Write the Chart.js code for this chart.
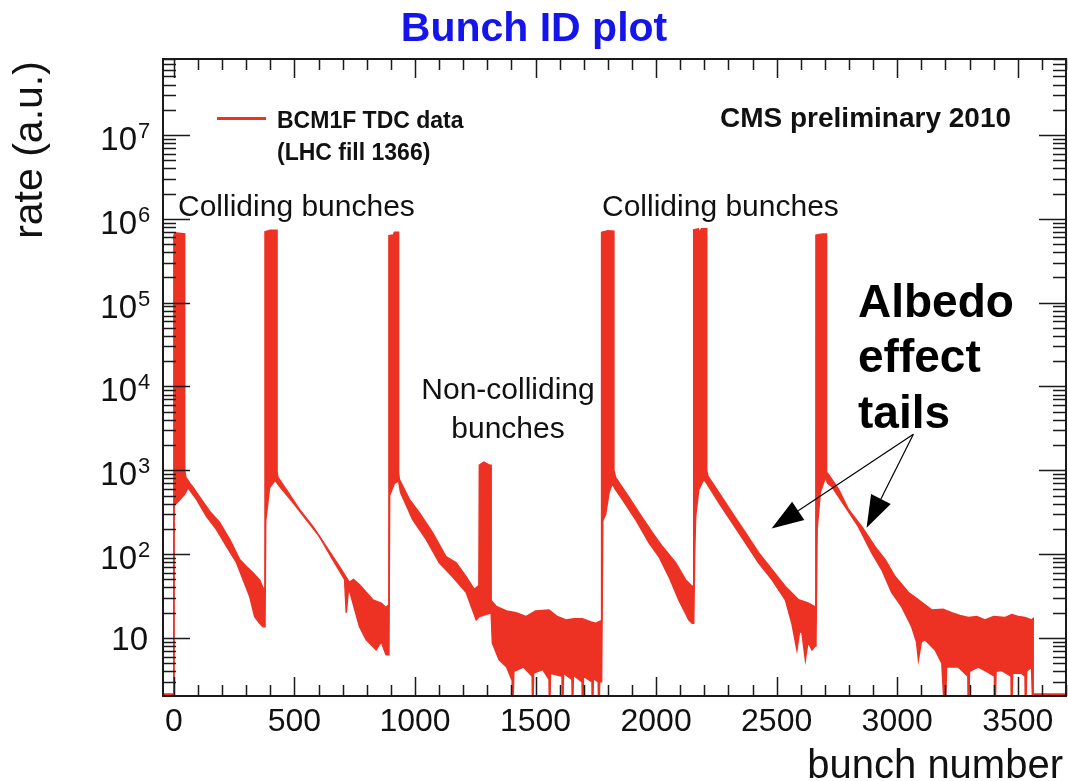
<!DOCTYPE html>
<html>
<head>
<meta charset="utf-8">
<title>Bunch ID plot</title>
<script src="https://cdn.jsdelivr.net/npm/chart.js@4.4.1/dist/chart.umd.min.js"></script>
<style>
  html, body { margin: 0; padding: 0; background: #fff; }
  #wrap { position: relative; width: 1068px; height: 781px; }
</style>
</head>
<body>
<div id="wrap"><canvas id="bunchChart"></canvas></div>
<script>
// upper edge of the BCM1F histogram band (bunch number, rate)
var upperBunch = [-45, 0, 0, 5, 45, 45, 50, 66, 80, 108, 149, 190, 232, 273, 301, 328, 356, 372, 378,
  378, 400, 428, 428, 432, 466, 521, 577, 632, 687, 728, 745, 770, 825, 860, 880, 892,
  892, 910, 915, 932, 932, 935, 977, 1018, 1073, 1129, 1171, 1212, 1246, 1265,
  1267, 1285, 1310, 1316, 1316, 1336, 1349, 1380, 1419, 1460, 1500, 1556, 1590, 1626, 1660, 1694, 1730, 1750, 1772,
  1774, 1800, 1825, 1825, 1832, 1874, 1929, 1984, 2026, 2081, 2122, 2150, 2156,
  2156, 2175, 2180, 2188, 2210, 2210, 2215, 2260, 2315, 2370, 2425, 2481, 2536, 2591, 2632, 2660,
  2663, 2690, 2707, 2707, 2715, 2757, 2798, 2853, 2908, 2950, 2991, 3046, 3088, 3143, 3190, 3226, 3260,
  3295, 3330, 3364, 3400, 3446, 3475, 3502, 3530, 3557, 3564, 3564, 3700];
var upperRate = [2.15, 2.15, 6.3e5, 6.8e5, 6.6e5, 1000, 820, 700, 625, 475, 323, 238, 149, 86, 71, 60, 49, 38, 40,
  7.0e5, 7.3e5, 7.3e5, 950, 820, 592, 341, 213, 123, 71, 46, 50, 43, 28.5, 26, 23, 25,
  6.3e5, 6.4e5, 6.9e5, 6.9e5, 950, 780, 450, 312, 181, 93, 79, 54, 38, 42,
  1150, 1250, 1150, 1150, 28, 24, 23, 21, 20, 18, 21, 21.6, 18, 16.4, 17, 17, 15.5, 15, 16,
  6.9e5, 7.2e5, 7.1e5, 1000, 820, 545, 312, 181, 123, 79, 49.5, 41, 42,
  7.4e5, 7.6e5, 6.9e5, 7.6e5, 7.6e5, 1000, 850, 545, 312, 181, 104, 65, 41, 28.5, 26, 23.5,
  6.4e5, 6.6e5, 6.6e5, 950, 890, 592, 341, 213, 123, 86, 54, 35, 28.5, 21.6, 22, 20, 18.5,
  17.5, 18, 16.4, 18, 17.5, 19, 18, 17.5, 16.4, 17, 2.15, 2.15];

// lower edge of the same band (bunch number, rate); 1 means an empty bin below the axis
var lowerBunch = [-45, 0, 1, 20, 45, 59, 94, 136, 177, 219, 260, 287, 315, 335, 356, 370, 378,
  381, 397, 420, 439, 494, 549, 604, 659, 708, 715, 725, 770, 798, 839, 860, 880, 892,
  895, 915, 932, 940, 990, 1047, 1101, 1155, 1212, 1254, 1267, 1316,
  1321, 1349, 1380, 1403, 1405, 1410, 1450, 1486, 1488, 1492, 1530, 1556, 1558, 1562, 1610, 1612, 1616,
  1651, 1653, 1657, 1693, 1695, 1699, 1734, 1736, 1740, 1760, 1762, 1766, 1774,
  1779, 1791, 1805, 1818, 1830, 1860, 1915, 1970, 2012, 2053, 2094, 2136, 2150, 2156,
  2160, 2164, 2177, 2198, 2210, 2260, 2315, 2370, 2425, 2481, 2536, 2563, 2584, 2595, 2605, 2619, 2630, 2646, 2660,
  2663, 2668, 2681, 2702, 2712, 2729, 2784, 2839, 2894, 2936, 2977, 3019, 3060, 3080, 3088, 3100, 3115, 3157, 3185,
  3198, 3205, 3253, 3293, 3295, 3300, 3336, 3370, 3403, 3405, 3410, 3432, 3472, 3474, 3479, 3515, 3530, 3532, 3537,
  3557, 3564, 3700];
var lowerRate = [1, 1, 380, 430, 520, 620, 450, 280, 196, 123, 79, 50, 31, 18, 15, 13.6, 13.6,
  250, 620, 760, 640, 413, 259, 162, 86, 50, 20, 40, 13.6, 9.5, 7.2, 9, 6.3, 6.3,
  500, 700, 750, 545, 259, 149, 79, 54, 35, 16.4, 18, 20,
  8.7, 5.5, 4.5, 3.1, 1, 4, 4.5, 3.5, 1, 3.8, 4.2, 3.2, 1, 3.8, 3.5, 1, 3.8,
  3.2, 1, 3.6, 3, 1, 3.5, 3, 1, 3.3, 3, 1, 3, 3,
  250, 300, 545, 700, 600, 450, 259, 137, 93, 54, 28.5, 16.4, 15, 15,
  100, 280, 592, 780, 700, 413, 238, 137, 79, 49.5, 28.5, 15, 7.2, 12, 11.5, 5.5, 9, 7.2, 8,
  9, 200, 545, 820, 700, 640, 370, 213, 104, 65, 35, 23.5, 13.6, 9, 5.5, 9, 9.5, 7.2, 5,
  1, 4.5, 4.5, 3.5, 1, 4, 4.5, 4, 3.5, 1, 4, 4.1, 3.5, 1, 3.8, 3.8, 3.5, 1, 4,
  4.5, 1, 1];

var xMajorTicks = [0, 500, 1000, 1500, 2000, 2500, 3000, 3500];
var xTickLabels = ['0', '500', '1000', '1500', '2000', '2500', '3000', '3500'];
var yDecades = [1, 2, 3, 4, 5, 6, 7];
var yTickLabels = ['10', '10', '10', '10', '10', '10', '10'];
var yTickExponents = ['', '2', '3', '4', '5', '6', '7'];

var RED = 'rgb(237, 50, 36)';
var FONT = '"Liberation Sans", Arial, Helvetica, sans-serif';

// arrows of the "Albedo effect tails" note, in (bunch, rate)
var arrowFrom = [3067, 2700];
var arrowTips = [[2479, 202], [2873, 207]];

function toPoints(xs, ys) {
	var pts = [];
	for (var i = 0; i < xs.length; i++) {
		pts.push({x: xs[i], y: ys[i]});
	}
	return pts;
}

function drawArrow(ctx, x0, y0, x1, y1) {
	var dx = x1 - x0, dy = y1 - y0;
	var len = Math.sqrt(dx * dx + dy * dy);
	var ux = dx / len, uy = dy / len;
	var headLen = 32, headHalf = 11;
	var bx = x1 - ux * headLen, by = y1 - uy * headLen;
	ctx.beginPath();
	ctx.moveTo(x0, y0);
	ctx.lineTo(bx, by);
	ctx.stroke();
	ctx.beginPath();
	ctx.moveTo(x1, y1);
	ctx.lineTo(bx - uy * headHalf, by + ux * headHalf);
	ctx.lineTo(bx + uy * headHalf, by - ux * headHalf);
	ctx.closePath();
	ctx.fill();
}

var rootStyle = {
	id: 'rootStyle',
	afterDatasetsDraw: function(chart) {
		var ctx = chart.ctx;
		var a = chart.chartArea;
		var xs = chart.scales.x, ys = chart.scales.y;
		ctx.save();
		ctx.strokeStyle = '#1a1a1a';
		ctx.lineWidth = 1.5;

		// x ticks, every 100 bunches, on bottom and top
		ctx.beginPath();
		for (var v = 0; v <= xs.max; v += 100) {
			var px = Math.round(xs.getPixelForValue(v)) + 0.5;
			var len = (v % 500 === 0) ? 19 : 11;
			ctx.moveTo(px, a.bottom); ctx.lineTo(px, a.bottom - len);
			ctx.moveTo(px, a.top); ctx.lineTo(px, a.top + len);
		}
		// y ticks, decades and 2..9 in between, on left and right
		for (var p = 0; p <= 7; p++) {
			for (var m = 1; m <= 9; m++) {
				var val = m * Math.pow(10, p);
				if (val < ys.min || val > ys.max) continue;
				var py = Math.round(ys.getPixelForValue(val)) + 0.5;
				var l2 = (m === 1) ? 27 : 13;
				ctx.moveTo(a.left, py); ctx.lineTo(a.left + l2, py);
				ctx.moveTo(a.right, py); ctx.lineTo(a.right - l2, py);
			}
		}
		ctx.stroke();

		ctx.lineWidth = 2;
		ctx.strokeRect(a.left, a.top, a.right - a.left, a.bottom - a.top);

		// tick labels
		ctx.fillStyle = '#111';
		ctx.font = '32px ' + FONT;
		ctx.textAlign = 'center';
		ctx.textBaseline = 'alphabetic';
		for (var i = 0; i < xMajorTicks.length; i++) {
			ctx.fillText(xTickLabels[i], xs.getPixelForValue(xMajorTicks[i]), 731);
		}
		for (var j = 0; j < yDecades.length; j++) {
			var ty = ys.getPixelForValue(Math.pow(10, yDecades[j]));
			ctx.textAlign = 'right';
			ctx.font = '33px ' + FONT;
			if (yTickExponents[j] === '') {
				ctx.fillText(yTickLabels[j], 148, ty + 12);
			} else {
				ctx.fillText(yTickLabels[j], 137, ty + 15);
				ctx.font = '22px ' + FONT;
				ctx.textAlign = 'left';
				ctx.fillText(yTickExponents[j], 138, ty + 3);
			}
		}

		// axis titles
		ctx.font = '40px ' + FONT;
		ctx.textAlign = 'right';
		ctx.fillText('bunch number', 1063, 778);
		ctx.save();
		ctx.translate(42, 150);
		ctx.rotate(-Math.PI / 2);
		ctx.font = '41px ' + FONT;
		ctx.textAlign = 'center';
		ctx.fillText('rate (a.u.)', 0, 0);
		ctx.restore();

		// legend
		ctx.strokeStyle = RED;
		ctx.lineWidth = 3;
		ctx.beginPath();
		ctx.moveTo(217, 118.5); ctx.lineTo(266, 118.5);
		ctx.stroke();
		ctx.fillStyle = '#111';
		ctx.textAlign = 'left';
		ctx.font = 'bold 23px ' + FONT;
		ctx.fillText('BCM1F TDC data', 277, 128);
		ctx.fillText('(LHC fill 1366)', 277, 160);
		ctx.font = 'bold 28px ' + FONT;
		ctx.fillText('CMS preliminary 2010', 720, 127);

		// notes
		ctx.font = '30px ' + FONT;
		ctx.fillText('Colliding bunches', 178, 216);
		ctx.fillText('Colliding bunches', 602, 216);
		ctx.textAlign = 'center';
		ctx.fillText('Non-colliding', 508, 399);
		ctx.fillText('bunches', 508, 438);
		ctx.textAlign = 'left';
		ctx.fillStyle = '#000';
		ctx.font = 'bold 46px ' + FONT;
		ctx.fillText('Albedo', 858, 317);
		ctx.fillText('effect', 858, 372);
		ctx.fillText('tails', 858, 428);

		ctx.strokeStyle = '#000';
		ctx.lineWidth = 1.2;
		var fx = xs.getPixelForValue(arrowFrom[0]), fy = ys.getPixelForValue(arrowFrom[1]);
		for (var k = 0; k < arrowTips.length; k++) {
			drawArrow(ctx, fx, fy, xs.getPixelForValue(arrowTips[k][0]), ys.getPixelForValue(arrowTips[k][1]));
		}

		// title
		ctx.fillStyle = 'rgb(20, 20, 235)';
		ctx.font = 'bold 41px ' + FONT;
		ctx.textAlign = 'center';
		ctx.fillText('Bunch ID plot', 534, 41);
		ctx.restore();
	}
};

var chartdata = {
	datasets: [
		{
			label: 'BCM1F TDC data',
			data: toPoints(upperBunch, upperRate),
			borderColor: RED,
			borderWidth: 1.5,
			pointRadius: 0,
			tension: 0,
			fill: false
		},
		{
			label: 'lower edge',
			data: toPoints(lowerBunch, lowerRate),
			borderColor: RED,
			backgroundColor: RED,
			borderWidth: 1.5,
			pointRadius: 0,
			tension: 0,
			fill: '-1'
		}
	]
};

new Chart(document.getElementById('bunchChart'), {
	type: 'line',
	data: chartdata,
	options: {
		animation: false,
		responsive: true,
		maintainAspectRatio: false,
		events: [],
		layout: { padding: { left: 163, right: 2, top: 59, bottom: 85 } },
		scales: {
			x: { type: 'linear', min: -45, max: 3700, display: false },
			y: { type: 'logarithmic', min: 2.03, max: 8.07e7, display: false }
		},
		plugins: {
			legend: { display: false },
			tooltip: { enabled: false }
		}
	},
	plugins: [rootStyle]
});
</script>
</body>
</html>
